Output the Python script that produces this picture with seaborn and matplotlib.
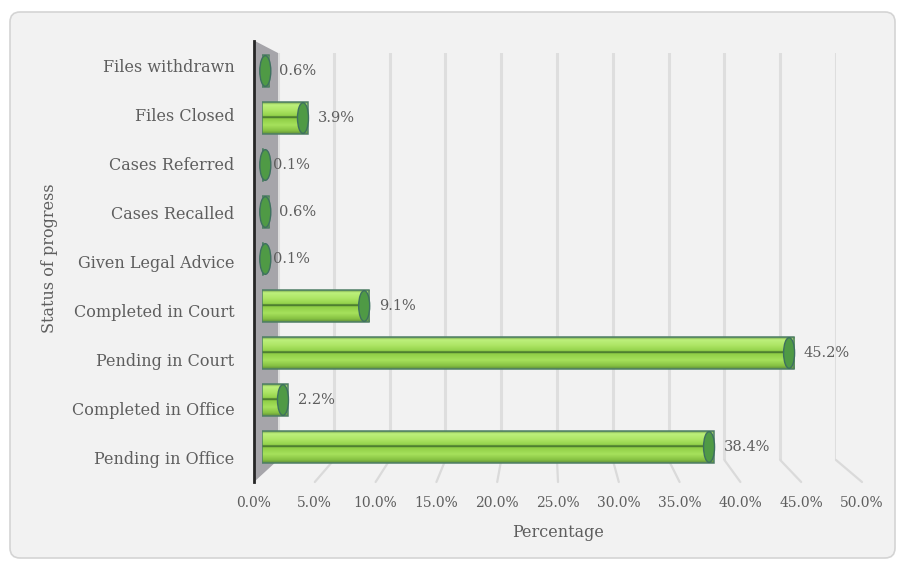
import numpy as np
import pandas as pd
import matplotlib
matplotlib.use("Agg")
import matplotlib.pyplot as plt
import seaborn as sns
from matplotlib.colors import LinearSegmentedColormap
from matplotlib.patches import FancyBboxPatch, Polygon, Ellipse, ConnectionPatch

# ---- data -------------------------------------------------------------
status = [
    "Files withdrawn",
    "Files Closed",
    "Cases Referred",
    "Cases Recalled",
    "Given Legal Advice",
    "Completed in Court",
    "Pending in Court",
    "Completed in Office",
    "Pending in Office",
]
percent = [0.6, 3.9, 0.1, 0.6, 0.1, 9.1, 45.2, 2.2, 38.4]
x_ticks = [0, 5, 10, 15, 20, 25, 30, 35, 40, 45, 50]

df = pd.DataFrame({"status": status, "percent": percent})

# ---- style ------------------------------------------------------------
sns.set_theme(style="white")
plt.rcParams["font.family"] = ["DejaVu Serif"]
TEXT = "#5e5e5e"

W, H = 903, 565
fig = plt.figure(figsize=(W / 100, H / 100), dpi=100)
fig.patch.set_facecolor("white")


def px_box(left, top, right, bottom):
    return [left / W, 1 - bottom / H, (right - left) / W, (bottom - top) / H]


# rounded chart-area frame
frame = FancyBboxPatch((0.10, 0.07), 8.85, 5.46,
                       boxstyle="round,pad=0,rounding_size=0.10",
                       transform=fig.dpi_scale_trans,
                       facecolor="#f2f2f2", edgecolor="#d4d4d4", lw=1.2, zorder=-5)
fig.add_artist(frame)

n = len(status)

# back wall (gridlines), front plane (tick labels), bar plane
axb = fig.add_axes(px_box(278, 53, 836, 460))
axf = fig.add_axes(px_box(254, 40.5, 862, 482))
ax = fig.add_axes(px_box(262, 47.5, 850.5, 470.5))
axb.set_zorder(0.2)
axf.set_zorder(1)
ax.set_zorder(2)
for a in (axb, axf, ax):
    a.patch.set_visible(False)
    a.set_xlim(0, 50)
    for s in a.spines.values():
        s.set_visible(False)

# back-wall vertical gridlines
axb.set_xticks(x_ticks)
axb.set_yticks([])
axb.tick_params(axis="x", bottom=False, labelbottom=False)
axb.grid(axis="x", color="#dedede", lw=2.2)

# front plane: category and percentage labels
axf.set_ylim(n - 0.5, -0.5)
axf.set_yticks(range(n), labels=status)
axf.set_xticks(x_ticks, labels=[f"{t:.1f}%" for t in x_ticks])
axf.tick_params(axis="y", left=False, length=0, pad=14, labelsize=11.5, labelcolor=TEXT)
axf.tick_params(axis="x", bottom=False, length=0, pad=10, labelsize=10, labelcolor=TEXT)
axf.spines["left"].set_visible(True)
axf.spines["left"].set_color("#262626")
axf.spines["left"].set_linewidth(2)
axf.set_xlabel("Percentage", fontsize=11.5, color=TEXT)
axf.set_ylabel("Status of progress", fontsize=11.5, color=TEXT)
axf.xaxis.set_label_coords(558 / W, 1 - 524 / H, transform=fig.transFigure)
axf.yaxis.set_label_coords(58 / W, 1 - 258 / H, transform=fig.transFigure)

# side wall linking the front and back planes
inv = fig.transFigure.inverted()
corners = [inv.transform(axf.transAxes.transform((0, 1))),
           inv.transform(axb.transAxes.transform((0, 1))),
           inv.transform(axb.transAxes.transform((0, 0))),
           inv.transform(axf.transAxes.transform((0, 0)))]
wall = Polygon(corners, closed=True, transform=fig.transFigure,
               facecolor="#a6a5aa", edgecolor="none", zorder=0.5)
fig.add_artist(wall)

# floor lines running from the back wall to the front edge
for t in x_ticks[1:]:
    con = ConnectionPatch(xyA=(t, 0), coordsA=axb.get_xaxis_transform(),
                          xyB=(t, 0), coordsB=axf.get_xaxis_transform(),
                          color="#dadada", lw=1.6, zorder=0.4)
    fig.add_artist(con)

# ---- bars -------------------------------------------------------------
sns.barplot(data=df, x="percent", y="status", ax=ax, width=0.68,
            color="#92d050", saturation=1, order=status)
ax.set_ylim(n - 0.5, -0.5)
ax.set_xlim(0, 50)
ax.set_xlabel("")
ax.set_ylabel("")
ax.set_xticks([])
ax.set_yticks([])

shade = LinearSegmentedColormap.from_list("cyl", [
    (0.00, "#6e9a48"), (0.08, "#bdf07c"), (0.25, "#aee666"),
    (0.43, "#93d24a"), (0.47, "#2f5a25"), (0.52, "#8fce46"),
    (0.72, "#a6e15c"), (0.90, "#86c142"), (1.00, "#5e8c3c")])
grad = np.linspace(0, 1, 256).reshape(-1, 1)
px_per_unit = (850.5 - 262) / 50
cap_w = 11 / px_per_unit

for bar in ax.containers[0]:
    x0, y0 = bar.get_x(), bar.get_y()
    w, h = bar.get_width(), bar.get_height()
    bar.set_facecolor("none")
    bar.set_edgecolor("#4f7f66")
    bar.set_linewidth(1.1)
    bar.set_zorder(3)
    im = ax.imshow(grad, cmap=shade, aspect="auto", interpolation="bilinear",
                   extent=[x0, x0 + w, y0 + h, y0], zorder=2)
    im.set_clip_path(bar)
    # rounded end of the cylinder
    cx = max(x0 + w - cap_w / 2 + 0.05, x0 + cap_w * 0.3)
    cap = Ellipse((cx, y0 + h / 2), cap_w, h * 0.96,
                  facecolor="#4f9a45", edgecolor="#3e7060", lw=1, zorder=4,
                  clip_on=False)
    ax.add_patch(cap)

ax.bar_label(ax.containers[0], labels=[f"{v:.1f}%" for v in percent],
             padding=7, fontsize=10.5, color=TEXT)
ax.set_ylim(n - 0.5, -0.5)
ax.set_xlim(0, 50)

fig.savefig("out.png", dpi=100, facecolor="white")
